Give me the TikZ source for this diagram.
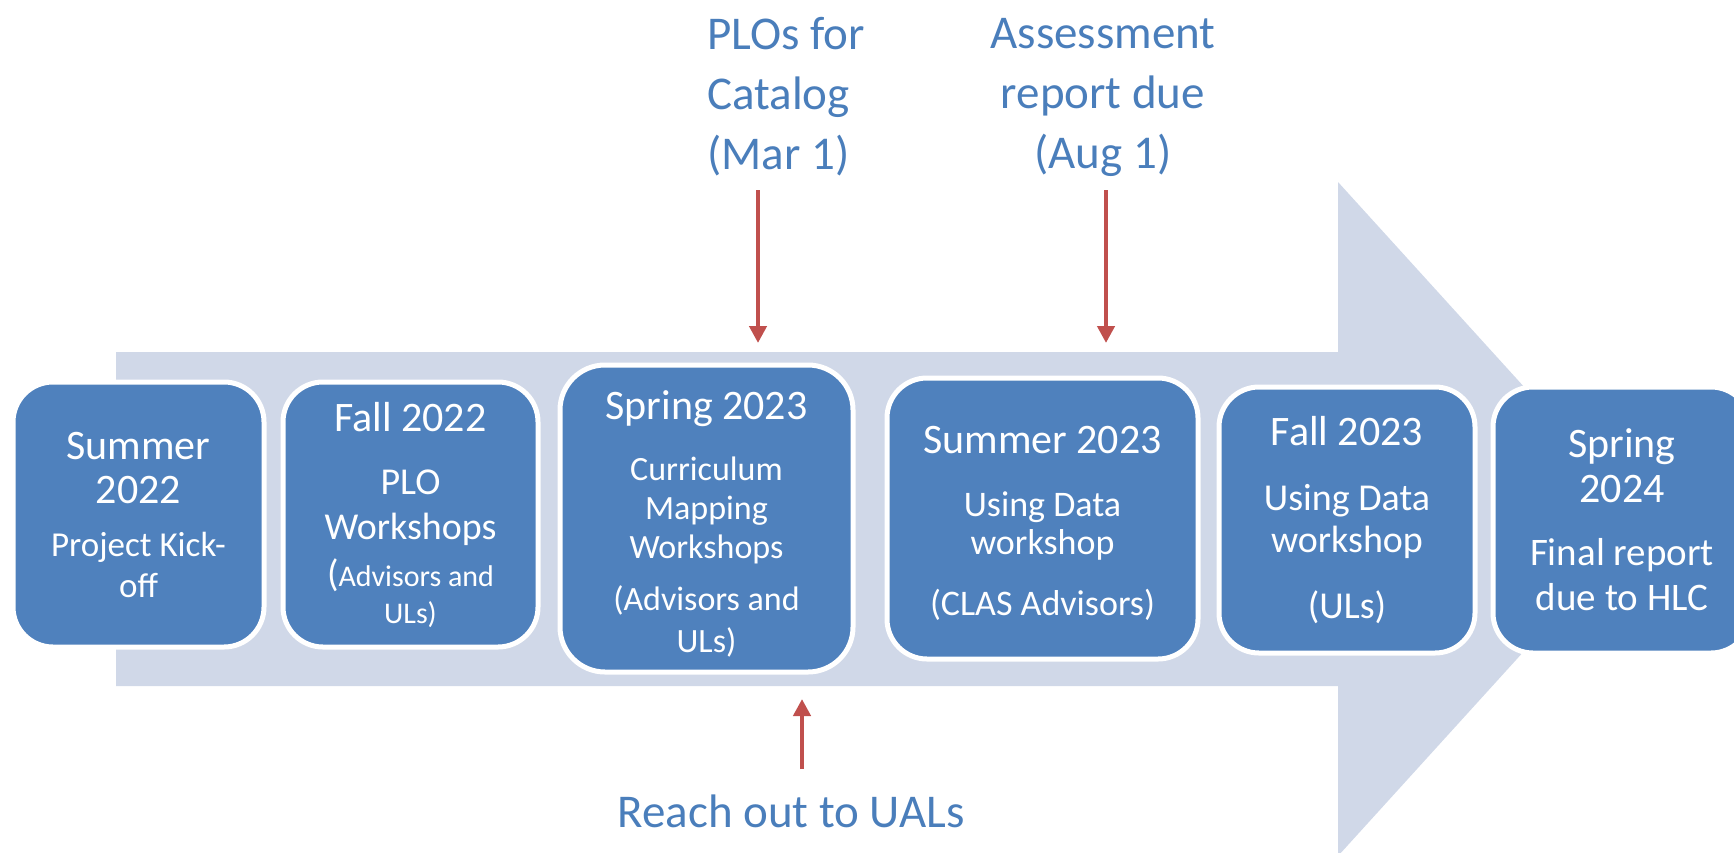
\documentclass[tikz,border=0pt]{standalone}
\usepackage{fontspec}
\setmainfont{Carlito}
\usetikzlibrary{arrows.meta}
\definecolor{stageblue}{HTML}{4F81BD}
\definecolor{bandgray}{HTML}{D0D8E8}
\definecolor{markred}{HTML}{C0504D}
\definecolor{notetext}{HTML}{4A7EBB}
\newcommand{\stagetitle}{\fontsize{42}{44}\selectfont}
\newcommand{\stagesub}[1]{\fontsize{#1}{#1}\selectfont}

\begin{document}
\begin{tikzpicture}[x=1pt, y=-1pt,
  stage/.style={draw=white, line width=5pt, fill=stageblue, rounded corners=40pt,
    text=white, align=center, inner sep=0pt},
  note/.style={text=notetext, font=\fontsize{47}{60}\selectfont, inner sep=0pt},
  deadline/.style={markred, line width=4.5pt, -{Triangle[length=17pt,width=17pt]}}]
  \useasboundingbox (0,0) rectangle (1734,852);

  % Timeline band with arrow head
  \fill[bandgray] (116,352) -- (1338,352) -- (1338,182) -- (1644,519)
    -- (1338,856) -- (1338,686) -- (116,686) -- cycle;

  % Stages
  \node[stage, minimum width=251pt, minimum height=265pt, font=\fontsize{35}{41}\selectfont]
    (summer22) at (138.5,514.5)
    {{\stagetitle Summer}\\[3pt]{\stagetitle 2022}\\[12pt]Project Kick-\\off};
  \node[stage, minimum width=255pt, minimum height=265pt, font=\fontsize{30}{37}\selectfont]
    (fall22) at (410.5,514.5)
    {{\stagetitle Fall 2022}\\[26pt]{\stagesub{38}PLO}\\[8pt]{\stagesub{38}Workshops}\\[10pt]%
     {\stagesub{38}(}Advisors and\\ULs)};
  \node[stage, minimum width=293pt, minimum height=307pt, rounded corners=45pt,
    font=\fontsize{34}{39}\selectfont]
    (spring23) at (706.5,518.5)
    {{\rule{0pt}{40pt}\stagetitle Spring 2023}\\[22pt]Curriculum\\Mapping\\Workshops\\[13pt]%
     (Advisors and\\[3pt]ULs)};
  \node[stage, minimum width=311pt, minimum height=281pt, font=\fontsize{36}{38}\selectfont]
    (summer23) at (1042.5,518.5)
    {{\rule{0pt}{37pt}\stagetitle Summer 2023}\\[25pt]Using Data\\workshop\\[23pt](CLAS Advisors)};
  \node[stage, minimum width=256pt, minimum height=266pt, font=\fontsize{38}{42}\selectfont]
    (fall23) at (1347,520)
    {{\stagetitle Fall 2023}\\[23pt]Using Data\\workshop\\[24pt](ULs)};
  \node[stage, minimum width=258pt, minimum height=266pt, font=\fontsize{39}{45}\selectfont]
    (spring24) at (1622,520)
    {{\stagetitle Spring}\\{\stagetitle 2024}\\[18pt]Final report\\due to HLC};

  % Deadlines
  \node[note, anchor=west, align=left] (plos) at (707,97) {PLOs for\\Catalog\\(Mar 1)};
  \node[note, align=center] (assess) at (1103,97) {Assessment\\report due\\(Aug 1)};
  \node[note] (reach) at (791,811) {Reach out to UALs};

  \coordinate (plostart) at (758,190);
  \coordinate (ploend) at (758,343);
  \coordinate (assessstart) at (1106,190);
  \coordinate (assessend) at (1106,343);
  \coordinate (reachstart) at (802,769);
  \coordinate (reachend) at (802,699);
  \draw[deadline] (plostart) -- (ploend);
  \draw[deadline] (assessstart) -- (assessend);
  \draw[deadline] (reachstart) -- (reachend);
\end{tikzpicture}
\end{document}
